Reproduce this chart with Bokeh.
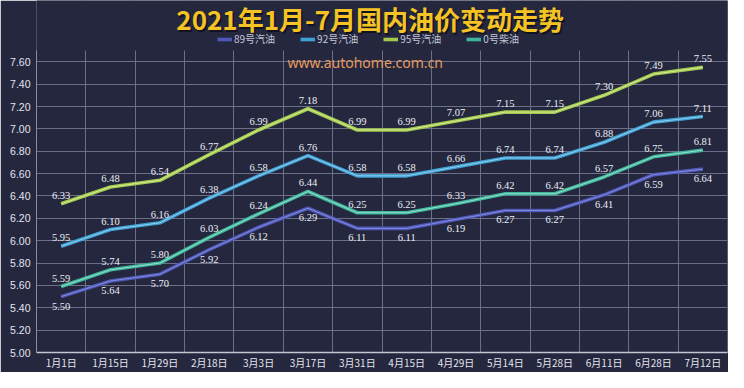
import math
from bokeh.plotting import figure
from bokeh.models import (ColumnDataSource, FixedTicker, Legend, LegendItem, Label,
                          Range1d, BoxAnnotation, NumeralTickFormatter)
from bokeh.core.properties import value
from bokeh.embed import file_html
from bokeh.resources import INLINE

# ---- data ----
dates = ["1月1日", "1月15日", "1月29日", "2月18日", "3月3日", "3月17日", "3月31日",
         "4月15日", "4月29日", "5月14日", "5月28日", "6月11日", "6月28日", "7月12日"]
gas89 = [5.50, 5.64, 5.70, 5.92, 6.12, 6.29, 6.11, 6.11, 6.19, 6.27, 6.27, 6.41, 6.59, 6.64]
gas92 = [5.95, 6.10, 6.16, 6.38, 6.58, 6.76, 6.58, 6.58, 6.66, 6.74, 6.74, 6.88, 7.06, 7.11]
gas95 = [6.33, 6.48, 6.54, 6.77, 6.99, 7.18, 6.99, 6.99, 7.07, 7.15, 7.15, 7.30, 7.49, 7.55]
diesel0 = [5.59, 5.74, 5.80, 6.03, 6.24, 6.44, 6.25, 6.25, 6.33, 6.42, 6.42, 6.57, 6.75, 6.81]
series_names = ["89号汽油", "92号汽油", "95号汽油", "0号柴油"]
y_ticks = [5.00, 5.20, 5.40, 5.60, 5.80, 6.00, 6.20, 6.40, 6.60, 6.80, 7.00, 7.20, 7.40, 7.60]
title_text = "2021年1月-7月国内油价变动走势"
watermark = "www.autohome.com.cn"

BG = "#24273e"
GRID = "#6c6f88"
colors = ["#4f58b8", "#3fa0d3", "#a2c94c", "#3db49b"]
lights = ["#9097e2", "#a5d8f2", "#e0f2ae", "#aae8d6"]

xs = list(range(len(dates)))
Y_MIN, Y_TOP, Y_MAX = 5.0, 7.70, 8.148

p = figure(width=728, height=372, output_backend="svg", toolbar_location=None,
           x_range=Range1d(-0.5, len(dates) - 0.5), y_range=Range1d(Y_MIN, Y_MAX),
           background_fill_color=BG, border_fill_color=BG,
           min_border_left=36, min_border_right=1, min_border_top=0, min_border_bottom=0)
p.outline_line_color = None

# grids
p.xgrid.ticker = FixedTicker(ticks=[i - 0.5 for i in range(len(dates) + 1)])
p.xgrid.grid_line_color = GRID
p.ygrid.ticker = FixedTicker(ticks=y_ticks)
p.ygrid.grid_line_color = GRID
# hide grid above the plotting area's top (title / legend zone)
p.add_layout(BoxAnnotation(bottom=Y_TOP, fill_color=BG, fill_alpha=1, line_alpha=0,
                           level="underlay"))

# axes
p.xaxis.ticker = FixedTicker(ticks=xs)
p.xaxis.major_label_overrides = {i: d for i, d in enumerate(dates)}
p.xaxis.major_tick_out = 0
p.xaxis.major_tick_in = 0
p.xaxis.minor_tick_line_color = None
p.xaxis.axis_line_color = "#c4c6d2"
p.xaxis.axis_line_width = 1.5
p.xaxis.major_label_standoff = 2
p.xaxis.major_label_text_color = "#e4e5ee"
p.xaxis.major_label_text_font = "Noto Sans CJK SC"
p.xaxis.major_label_text_font_size = "10px"

p.yaxis.ticker = FixedTicker(ticks=y_ticks)
p.yaxis.bounds = (Y_MIN, Y_TOP)
p.yaxis.formatter = NumeralTickFormatter(format="0.00")
p.yaxis.major_tick_out = 0
p.yaxis.major_tick_in = 0
p.yaxis.minor_tick_line_color = None
p.yaxis.axis_line_color = "#8a8da3"
p.yaxis.major_label_standoff = 6
p.yaxis.major_label_text_color = "#e4e5ee"
p.yaxis.major_label_text_font = "Liberation Sans"
p.yaxis.major_label_text_font_size = "10.5px"

# series
all_series = [gas89, gas92, gas95, diesel0]
items = []
for name, vals, c, lc in zip(series_names, all_series, colors, lights):
    src = ColumnDataSource(dict(x=xs, y=vals, lab=[f"{v:.2f}" for v in vals]))
    r1 = p.line("x", "y", source=src, line_width=3.6, line_color=c)
    r2 = p.line("x", "y", source=src, line_width=1.0, line_color=lc, line_alpha=0.8)
    items.append(LegendItem(label=name, renderers=[r1]))
    below = name == "89号汽油"
    p.text("x", "y", text="lab", source=src,
           text_align="center", text_baseline="top" if below else "bottom",
           y_offset=6 if below else -5,
           text_color="#eceef5", text_font_size="10.5px",
           text_font=value("Liberation Serif"))

# watermark
p.add_layout(Label(x=6.16, y=7.594, text=watermark, text_align="center",
                   text_baseline="middle", text_color="#e59a5c",
                   text_font="Noto Sans", text_font_size="14px"))

# title (with a dark drop shadow)
TITLE_X, TITLE_Y = 6.26, 7.987
p.add_layout(Label(x=TITLE_X, y=TITLE_Y, text=title_text, text_align="center",
                   text_baseline="middle", text_color="#0e101c", text_alpha=0.85,
                   x_offset=1.5, y_offset=-2,
                   text_font="Noto Sans CJK SC", text_font_style="bold",
                   text_font_size="26px"))
p.add_layout(Label(x=TITLE_X, y=TITLE_Y, text=title_text, text_align="center",
                   text_baseline="middle", text_color="#f6c324",
                   text_font="Noto Sans CJK SC", text_font_style="bold",
                   text_font_size="26px"))

legend = Legend(items=items, orientation="horizontal", location=(181, 306),
                background_fill_alpha=0, border_line_alpha=0,
                label_text_color="#c3c6d8", label_text_font_size="10px",
                label_text_font="Noto Sans CJK SC",
                glyph_width=15, glyph_height=10, label_height=10,
                padding=0, margin=0, spacing=25, label_standoff=2)
p.add_layout(legend)

open("out.html", "w").write(file_html(p, INLINE))
